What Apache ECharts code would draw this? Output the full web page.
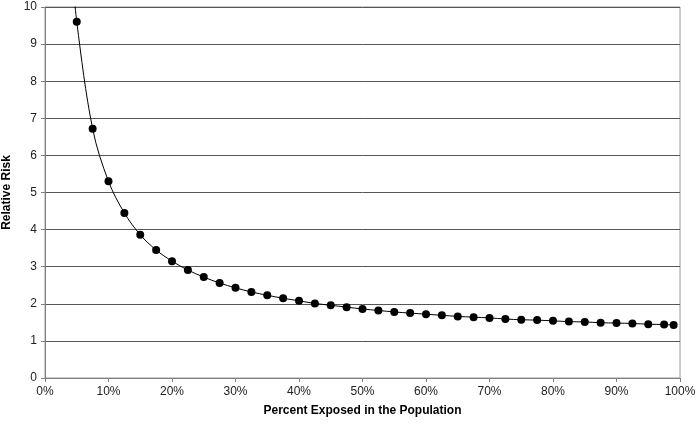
<!DOCTYPE html>
<html><head><meta charset="utf-8">
<script src="https://cdn.jsdelivr.net/npm/echarts@6/dist/echarts.min.js"></script>
<style>html,body{margin:0;padding:0;background:#fff}#c{width:698px;height:425px}</style>
</head><body><div id="c"></div>
<script>
// Percent exposed (x) and relative risk (y)
const percentExposed = [5, 7.5, 10, 12.5, 15, 17.5, 20, 22.5, 25, 27.5, 30, 32.5, 35, 37.5, 40, 42.5, 45, 47.5, 50, 52.5, 55, 57.5, 60, 62.5, 65, 67.5, 70, 72.5, 75, 77.5, 80, 82.5, 85, 87.5, 90, 92.5, 95, 97.5, 99];
const relativeRisk = [9.6, 6.72, 5.3, 4.45, 3.86, 3.45, 3.15, 2.91, 2.72, 2.56, 2.43, 2.32, 2.23, 2.15, 2.08, 2.01, 1.96, 1.91, 1.86, 1.82, 1.78, 1.75, 1.72, 1.69, 1.66, 1.64, 1.62, 1.59, 1.57, 1.56, 1.54, 1.52, 1.51, 1.49, 1.48, 1.47, 1.45, 1.44, 1.43];
// curve continues above the top of the plot before the first marker
const curveStart = [4.3, 11];
const xTicks = [0, 10, 20, 30, 40, 50, 60, 70, 80, 90, 100];
const yTicks = [0, 1, 2, 3, 4, 5, 6, 7, 8, 9, 10];

const chart = echarts.init(document.getElementById('c'));
const pts = [{value: curveStart, symbol: 'none'}].concat(percentExposed.map((x, i) => [x, relativeRisk[i]]));
chart.setOption({
  animation: false,
  textStyle: {fontFamily: 'Liberation Sans, Arial, sans-serif'},
  grid: {left: 45, right: 18, top: 7, bottom: 47, show: true, borderColor: '#9a9a9a', borderWidth: 1, containLabel: false, outerBoundsMode: 'none'},
  xAxis: {
    type: 'value', min: xTicks[0], max: xTicks[xTicks.length - 1], interval: 10,
    name: 'Percent Exposed in the Population', nameLocation: 'middle', nameGap: 27,
    nameTextStyle: {fontWeight: 'bold', fontSize: 12, color: '#000'},
    axisLine: {show: true, lineStyle: {color: '#808080'}},
    axisTick: {show: true, inside: false, length: 4, lineStyle: {color: '#808080'}},
    axisLabel: {formatter: '{value}%', fontSize: 12, color: '#222', margin: 8},
    splitLine: {show: false}
  },
  yAxis: {
    type: 'value', min: yTicks[0], max: yTicks[yTicks.length - 1], interval: 1,
    name: 'Relative Risk', nameLocation: 'middle', nameGap: 25, nameRotate: 90,
    nameTextStyle: {fontWeight: 'bold', fontSize: 12, color: '#000'},
    axisLine: {show: true, lineStyle: {color: '#808080'}},
    axisTick: {show: true, inside: false, length: 4, lineStyle: {color: '#808080'}},
    axisLabel: {fontSize: 12, color: '#222', margin: 8},
    splitLine: {show: true, lineStyle: {color: '#555', width: 1}}
  },
  series: [{
    type: 'line', data: pts, smooth: 0.35, clip: true,
    symbol: 'circle', symbolSize: 8, showAllSymbol: true,
    lineStyle: {color: '#000', width: 1},
    itemStyle: {color: '#000'}
  }]
});
</script></body></html>
